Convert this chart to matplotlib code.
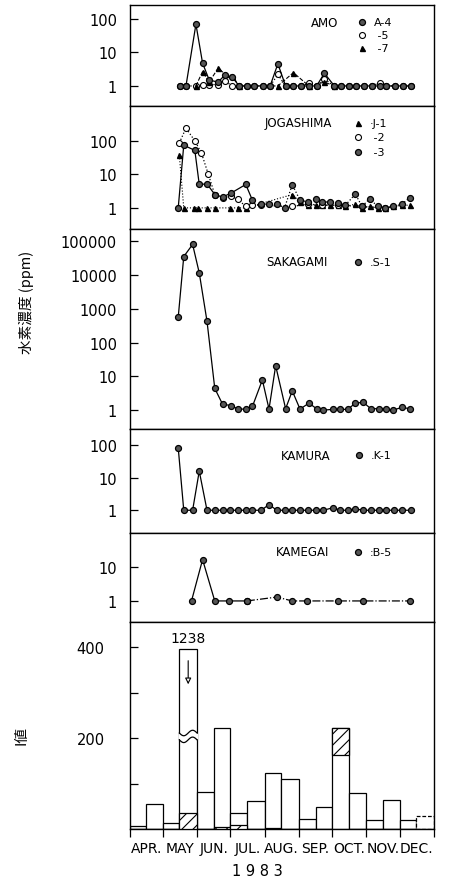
import numpy as np
import matplotlib.pyplot as plt
from matplotlib.ticker import NullLocator

# days counted from 1 April 1983
month_starts = [0, 30, 61, 91, 122, 153, 183, 214, 244, 275]
month_names = ["APR.", "MAY", "JUN.", "JUL.", "AUG.", "SEP.", "OCT.", "NOV.", "DEC."]

# AMO
amo_days = [46, 51, 60, 66, 72, 80, 86, 93, 99, 106, 112, 121, 127, 134, 141, 148,
            155, 162, 169, 176, 185, 191, 198, 205, 212, 219, 226, 232, 240, 247, 254]
amo_a4 = [1, 1, 70, 4.8, 1.5, 1.3, 2.1, 1.8, 1, 1, 1, 1, 1, 4.6, 1, 1,
          1, 1, 1, 2.4, 1, 1, 1, 1, 1, 1, 1, 1, 1, 1, 1]
amo_a5 = [1, 1, 1, 1.1, 1.1, 1.1, 1.4, 1.0, 1, 1, 1, 1, 1, 2.2, 1, 1,
          1, 1.2, 1, 1.6, 1, 1, 1, 1, 1, 1, 1.25, 1, 1, 1, 1]
amo_a7_days = [60, 66, 72, 80, 86, 93, 99, 134, 148, 162, 176, 185]
amo_a7 = [1, 2.7, 1.3, 3.4, 2.3, 2.0, 1, 1, 2.5, 1, 1.3, 1]

# JOGASHIMA
jo_j1_days = [45, 49, 58, 62, 70, 77, 91, 98, 105, 147, 154, 161, 168, 174, 181,
              188, 195, 204, 210, 217, 224, 231, 238, 246, 253]
jo_j1 = [37, 1, 1, 1, 1, 1, 1, 1, 1, 2.5, 1.5, 1.25, 1.2, 1.2, 1.2,
         1.2, 1.1, 1.3, 1.0, 1.1, 1.0, 1.0, 1.1, 1.2, 1.2]
jo_j2_days = [45, 51, 59, 65, 71, 77, 84, 92, 98, 105, 111, 119, 147, 161, 174, 188, 210, 231]
jo_j2 = [87, 240, 100, 43, 10.5, 2.5, 2.0, 2.2, 1.8, 1.1, 1.2, 1.2, 1.1, 1.3, 1.2, 1.2, 1.1, 1.0]
jo_j3_days = [44, 49, 59, 63, 70, 77, 84, 92, 105, 111,
              119, 126, 133, 140, 147, 154, 161, 168, 174, 181,
              188, 195, 204, 210, 217, 224, 231, 238, 246, 253]
jo_j3 = [1, 74, 52, 5, 5.2, 2.5, 2.1, 2.8, 5.0, 1.7,
         1.3, 1.3, 1.3, 1.0, 4.9, 1.7, 1.5, 1.8, 1.5, 1.5,
         1.4, 1.2, 2.6, 1.1, 1.9, 1.1, 1.0, 1.1, 1.3, 2.0]
jo_j3_solid = 10  # first points joined by a solid line, the rest dotted

# SAKAGAMI
sa_days = [44, 49, 57, 63, 70, 77, 84, 92, 98, 105, 111, 120, 126, 132, 141, 147,
           154, 162, 169, 175, 184, 190, 197, 204, 211, 218, 225, 232, 238, 246, 253]
sa_s1 = [558, 35000, 80000, 11500, 425, 4.4, 1.5, 1.35, 1.07, 1.07, 1.28, 7.8, 1.07, 20.5, 1.1, 3.7,
         1.07, 1.6, 1.1, 1.0, 1.05, 1.05, 1.05, 1.6, 1.7, 1.1, 1.1, 1.05, 1.0, 1.2, 1.1]

# KAMURA
ka_days = [44, 49, 57, 63, 70, 77, 84, 91, 98, 105, 111, 119, 126, 133, 140, 147,
           154, 161, 168, 175, 184, 190, 197, 204, 211, 218, 225, 232, 239, 246, 254]
ka_k1 = [83, 1, 1, 16, 1, 1, 1, 1, 1, 1, 1, 1, 1.5, 1, 1, 1,
         1, 1, 1, 1, 1.2, 1, 1, 1.1, 1, 1, 1, 1, 1, 1, 1]

# KAMEGAI
km_days = [56, 66, 77, 90, 106, 133, 147, 160, 188, 211, 253]
km_b5 = [1, 16.5, 1, 1, 1, 1.3, 1, 1, 1, 1, 1]
km_solid = 5

# I value, half-month bins
ival = [6, 55, 13, 1238, 82, 223, 35, 62, 123, 111, 22, 48, 221, 80, 20, 64, 19, 29]
hatch_lo = [0, 0, 0, 0, 0, 0, 0, 0, 0, 0, 0, 0, 163, 0, 0, 0, 0, 0]
hatch_hi = [0, 0, 0, 35, 0, 5, 8, 0, 3, 0, 0, 0, 221, 0, 0, 0, 0, 0]
ival_cap = 396

W, H = 449, 879
fig = plt.figure(figsize=(W / 100, H / 100), dpi=100)
plt.rcParams["hatch.linewidth"] = 0.8
jp = ["Noto Sans CJK JP", "DejaVu Sans"]

X0, X1 = 129.5, 434


def add_ax(top, bottom):
    return fig.add_axes([X0 / W, 1 - bottom / H, (X1 - X0) / W, (bottom - top) / H])


def log_panel(top, bottom, lo, hi, ticks):
    ax = add_ax(top, bottom)
    ax.set_yscale("log")
    ax.set_ylim(10 ** lo, 10 ** hi)
    ax.set_xlim(0, 275)
    ax.set_xticks([])
    ax.set_yticks(ticks)
    ax.set_yticklabels([str(t) for t in ticks])
    ax.yaxis.set_minor_locator(NullLocator())
    ax.tick_params(axis="y", direction="in", length=6, width=0.9, pad=9, labelsize=10.5)
    for s in ax.spines.values():
        s.set_linewidth(1.0)
    return ax


filled = dict(marker="o", ms=4.3, mfc="#555555", mec="black", mew=0.9, color="black", lw=0.9)
hollow = dict(marker="o", ms=4.3, mfc="white", mec="black", mew=0.8, color="black", lw=0.9)
tri = dict(marker="^", ms=3.6, mfc="black", mec="black", color="black", lw=0.8)


def legend_row(ax, x, y, style, label):
    st = {k: v for k, v in style.items() if k not in ("lw", "color")}
    ax.plot([x], [y], transform=ax.transAxes, clip_on=False, **st)
    ax.text(x + 0.04, y, label, transform=ax.transAxes, va="center", ha="left", fontsize=8)


def panel_name(ax, x, y, name):
    ax.text(x, y, name, transform=ax.transAxes, va="center", ha="left", fontsize=8.5)


# AMO
ax = log_panel(6, 107, -0.6, 2.42, [1, 10, 100])
ax.plot(amo_days, amo_a5, ls=":", **hollow)
ax.plot(amo_a7_days, amo_a7, ls="--", **tri)
ax.plot(amo_days, amo_a4, ls="-", **filled)
panel_name(ax, 0.595, 0.83, "AMO")
legend_row(ax, 0.763, 0.83, filled, "A-4")
legend_row(ax, 0.763, 0.70, hollow, " -5")
legend_row(ax, 0.763, 0.57, tri, " -7")

# JOGASHIMA
ax = log_panel(107, 230, -0.63, 3.04, [1, 10, 100])
ax.plot(jo_j1_days, jo_j1, ls=":", **tri)
ax.plot(jo_j2_days, jo_j2, ls=":", **hollow)
ax.plot(jo_j3_days[:jo_j3_solid], jo_j3[:jo_j3_solid], ls="-", **filled)
ax.plot(jo_j3_days[jo_j3_solid:], jo_j3[jo_j3_solid:], ls=":", **filled)
panel_name(ax, 0.444, 0.862, "JOGASHIMA")
legend_row(ax, 0.75, 0.862, tri, "·J-1")
legend_row(ax, 0.75, 0.752, hollow, " -2")
legend_row(ax, 0.75, 0.626, filled, " -3")

# SAKAGAMI
ax = log_panel(230, 430, -0.56, 5.36, [1, 10, 100, 1000, 10000, 100000])
ax.plot(sa_days, sa_s1, ls="-", **filled)
panel_name(ax, 0.45, 0.835, "SAKAGAMI")
legend_row(ax, 0.75, 0.835, filled, ".S-1")

# KAMURA
ax = log_panel(430, 534, -0.7, 2.5, [1, 10, 100])
ax.plot(ka_days, ka_k1, ls="-", **filled)
panel_name(ax, 0.497, 0.75, "KAMURA")
legend_row(ax, 0.753, 0.75, filled, ".K-1")

# KAMEGAI
ax = log_panel(534, 623, -0.62, 2.0, [1, 10])
ax.plot(km_days[:km_solid], km_b5[:km_solid], ls="-", **filled)
ax.plot(km_days[km_solid - 1:], km_b5[km_solid - 1:], ls="-.", **filled)
panel_name(ax, 0.48, 0.79, "KAMEGAI")
legend_row(ax, 0.75, 0.79, filled, ":B-5")

# I value bars
axb = add_ax(623, 830)
edges = []
for a, b in zip(month_starts[:-1], month_starts[1:]):
    edges += [a, a + 15]
edges.append(month_starts[-1])
lefts = np.array(edges[:-1], dtype=float)
widths = np.diff(edges).astype(float)
heights = np.minimum(ival, ival_cap)

bars = axb.bar(lefts, heights, width=widths, align="edge", facecolor="white",
               edgecolor="black", linewidth=0.9, zorder=2)
bars[-1].set_linestyle((0, (3, 1.5)))
hh = np.array(hatch_hi) - np.array(hatch_lo)
axb.bar(lefts, hh, bottom=hatch_lo, width=widths, align="edge", facecolor="white",
        edgecolor="black", linewidth=0.9, hatch="///", zorder=3)

# broken tall bar
big = int(np.argmax(ival))
bx0, bx1 = lefts[big], lefts[big] + widths[big]
t = np.linspace(0, 1, 60)
xs = bx0 + (bx1 - bx0) * t
wave = 6 * np.sin(2 * np.pi * t)
lo_line, hi_line = 196 - wave, 211 - wave
axb.fill_between(xs, lo_line, hi_line, color="white", zorder=4, lw=0)
axb.fill_between([bx0 - 0.6, bx1 + 0.6], [lo_line[0] + 2] * 2, [hi_line[0] - 2] * 2,
                 color="white", zorder=4, lw=0)
axb.plot(xs, lo_line, color="black", lw=0.9, zorder=5)
axb.plot(xs, hi_line, color="black", lw=0.9, zorder=5)
xc = (bx0 + bx1) / 2
axb.annotate("", xy=(xc, 312), xytext=(xc, 376),
             arrowprops=dict(arrowstyle="-|>", lw=0.8, fc="white", ec="black",
                             mutation_scale=9), zorder=6)
axb.text(xc, 404, str(ival[big]), ha="center", va="bottom", fontsize=10)

axb.set_xlim(0, 275)
axb.set_ylim(0, 455)
axb.set_yticks([100, 200, 300, 400])
axb.set_yticklabels(["", "200", "", "400"])
axb.tick_params(axis="y", direction="in", length=6, width=0.9, pad=18, labelsize=10.5)
axb.set_xticks(month_starts)
axb.set_xticklabels([])
axb.set_xticks([(a + b) / 2 for a, b in zip(month_starts[:-1], month_starts[1:])], minor=True)
axb.set_xticklabels(month_names, minor=True)
axb.tick_params(axis="x", which="major", direction="out", length=6, width=0.9)
axb.tick_params(axis="x", which="minor", length=0, pad=9, labelsize=10)
for s in axb.spines.values():
    s.set_linewidth(1.0)

fig.text(27 / W, 1 - 302 / H, "水素濃度 (ppm)", rotation=90, ha="center", va="center",
         family=jp, fontsize=10.5)
fig.text(22 / W, 1 - 736 / H, "I値", rotation=90, ha="center", va="center",
         family=jp, fontsize=10.5)
fig.text(257 / W, 1 - 872 / H, "1 9 8 3", ha="center", va="center", fontsize=10.5)

fig.savefig("out.png", dpi=100, facecolor="white")
